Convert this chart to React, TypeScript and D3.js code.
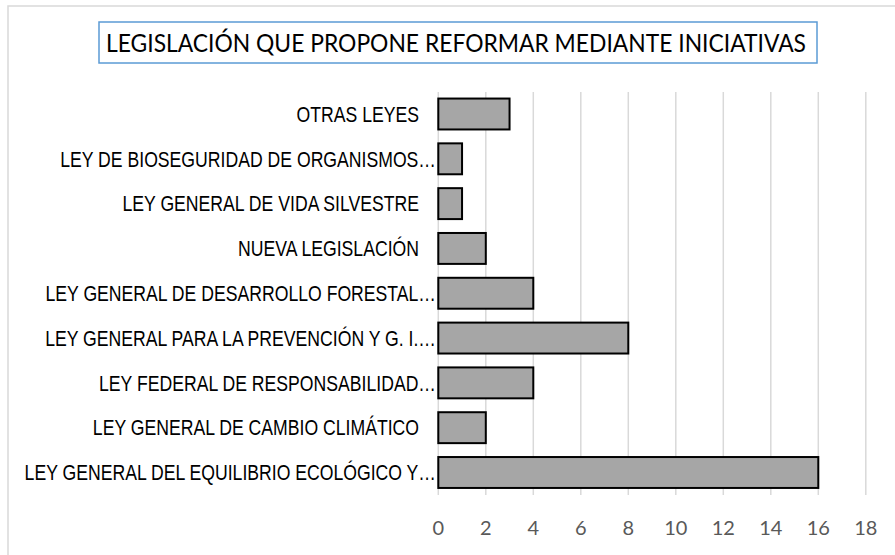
import React from "react";
import * as d3 from "d3";

const categories: string[] = [
  "OTRAS LEYES",
  "LEY DE BIOSEGURIDAD DE ORGANISMOS…",
  "LEY GENERAL DE VIDA SILVESTRE",
  "NUEVA LEGISLACIÓN",
  "LEY GENERAL DE DESARROLLO FORESTAL…",
  "LEY GENERAL PARA LA PREVENCIÓN Y G. I.…",
  "LEY FEDERAL DE RESPONSABILIDAD…",
  "LEY GENERAL DE CAMBIO CLIMÁTICO",
  "LEY GENERAL DEL EQUILIBRIO ECOLÓGICO Y…",
];
const values: number[] = [3, 1, 1, 2, 4, 8, 4, 2, 16];
const tickValues: number[] = [0, 2, 4, 6, 8, 10, 12, 14, 16, 18];
const title = "LEGISLACIÓN QUE PROPONE REFORMAR MEDIANTE INICIATIVAS";

const W = 895;
const H = 555;

export default function App() {
  const x = d3.scaleLinear().domain([0, 18]).range([438.3, 865.8]);
  const y = d3
    .scaleBand<string>()
    .domain(categories)
    .range([91.6, 494.9])
    .paddingInner(0.31)
    .paddingOuter(0.155);

  return (
    <svg
      width={W}
      height={H}
      style={{ position: "absolute", left: 0, top: 0, background: "#fff" }}
    >
      <rect x={0} y={0} width={W} height={H} fill="#fff" />
      {/* outer chart border */}
      <rect
        x={8}
        y={6}
        width={W + 50}
        height={H + 50}
        fill="none"
        stroke="#d9d9d9"
        strokeWidth={1.5}
      />
      {/* title box */}
      <rect
        x={99}
        y={22}
        width={718}
        height={41}
        fill="#fff"
        stroke="#5b9bd5"
        strokeWidth={1.5}
      />
      <text
        x={106}
        y={51.5}
        fontFamily="Lato, 'Open Sans', sans-serif"
        fontSize={24.5}
        fill="#000"
        textLength={700}
        lengthAdjust="spacingAndGlyphs"
      >
        {title}
      </text>
      {/* gridlines */}
      {tickValues.map((t) => (
        <line
          key={"g" + t}
          x1={x(t)}
          x2={x(t)}
          y1={92}
          y2={495}
          stroke="#d9d9d9"
          strokeWidth={1.5}
        />
      ))}
      {/* bars */}
      {categories.map((c, i) => (
        <rect
          key={"b" + c}
          x={x(0)}
          y={y(c)!}
          width={x(values[i]) - x(0)}
          height={y.bandwidth()}
          fill="#a6a6a6"
          stroke="#000"
          strokeWidth={2}
        />
      ))}
      {/* category labels (condensed) */}
      {categories.map((c) => {
        const truncated = c.endsWith("…");
        const xe = truncated ? 436 : 419;
        const ye = y(c)! + y.bandwidth() / 2 + 7.8;
        return (
          <g key={"l" + c} transform={`translate(${xe},${ye}) scale(0.82,1)`}>
            <text
              x={0}
              y={0}
              textAnchor="end"
              fontFamily="'Liberation Sans', Arial, sans-serif"
              fontSize={21.5}
              fill="#000"
            >
              {c}
            </text>
          </g>
        );
      })}
      {/* tick labels */}
      {tickValues.map((t) => (
        <text
          key={"t" + t}
          x={x(t)}
          y={534.5}
          textAnchor="middle"
          fontFamily="Lato, 'Open Sans', sans-serif"
          fontSize={20}
          fill="#595959"
        >
          {t}
        </text>
      ))}
    </svg>
  );
}
